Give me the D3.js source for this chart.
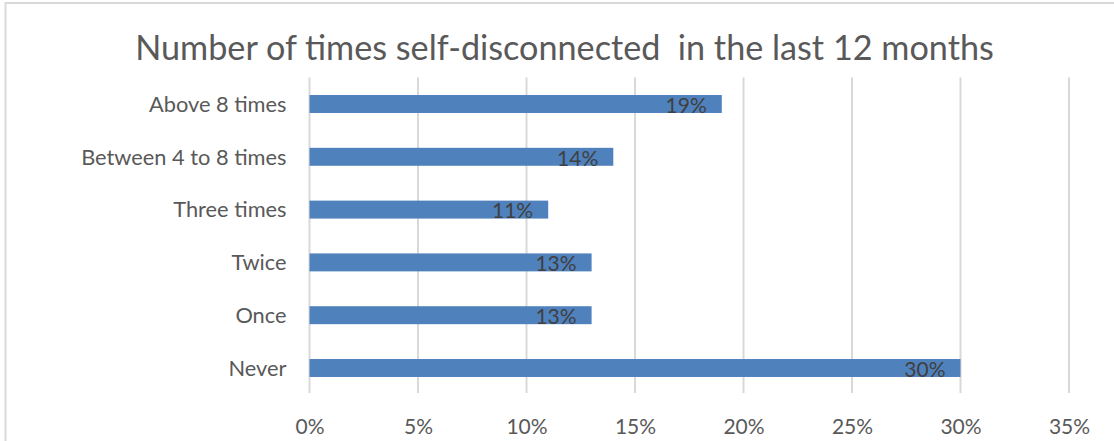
<!DOCTYPE html>
<html>
<head>
<meta charset="utf-8">
<script src="https://cdn.jsdelivr.net/npm/d3@7"></script>
<style>
  html, body { margin: 0; padding: 0; background: #fff; }
  svg { display: block; font-family: Lato, "Open Sans", sans-serif; }
</style>
</head>
<body>
<svg id="chart" width="1114" height="441"></svg>
<script>
// Survey responses: how often the household self-disconnected
const categories = ["Above 8 times", "Between 4 to 8 times", "Three times", "Twice", "Once", "Never"];
const shares = [19, 14, 11, 13, 13, 30];
const tickValues = [0, 5, 10, 15, 20, 25, 30, 35];
const title = "Number of times self-disconnected  in the last 12 months";

const svg = d3.select("#chart");
const W = 1114, H = 441;

// chart frame (light grey outline)
svg.append("rect")
  .attr("x", 5.5).attr("y", 3)
  .attr("width", W + 10).attr("height", H + 10)
  .attr("fill", "#fff").attr("stroke", "#d9d9d9").attr("stroke-width", 2);

const plot = { left: 309.5, right: 1069, top: 77.6, bottom: 394.4 };

const x = d3.scaleLinear().domain([0, 35]).range([plot.left, plot.right]);
const y = d3.scaleBand().domain(categories).range([plot.top, plot.bottom]).paddingInner(0.66).paddingOuter(0.33);

// vertical gridlines
svg.append("g").selectAll("line").data(tickValues).join("line")
  .attr("x1", d => x(d)).attr("x2", d => x(d))
  .attr("y1", plot.top).attr("y2", plot.bottom - 1.5)
  .attr("stroke", "#d9d9d9").attr("stroke-width", 2);

// x axis labels
const xAxis = d3.axisBottom(x).tickValues(tickValues).tickFormat(d => d + "%").tickSize(0).tickPadding(0);
const gx = svg.append("g").attr("transform", `translate(0,${plot.bottom + 25})`).call(xAxis);
gx.select(".domain").remove();
gx.selectAll("text").attr("font-size", 21).attr("fill", "#595959").attr("font-family", "Lato, sans-serif").attr("dy", "0.71em");

// y axis labels
const yAxis = d3.axisLeft(y).tickSize(0).tickPadding(23);
const gy = svg.append("g").attr("transform", `translate(${plot.left},0)`).call(yAxis);
gy.select(".domain").remove();
gy.selectAll("text").attr("font-size", 21.8).attr("fill", "#595959").attr("font-family", "Lato, sans-serif").attr("dy", "0.36em");

// bars
svg.append("g").selectAll("rect").data(categories).join("rect")
  .attr("x", x(0))
  .attr("y", d => y(d))
  .attr("width", (d, i) => x(shares[i]) - x(0))
  .attr("height", y.bandwidth())
  .attr("fill", "#4f81bd");

// value labels, inside end of each bar
svg.append("g").selectAll("text").data(categories).join("text")
  .attr("x", (d, i) => x(shares[i]) - 15)
  .attr("y", d => y(d) + y.bandwidth() / 2)
  .attr("dy", "0.42em")
  .attr("text-anchor", "end")
  .attr("font-size", 21)
  .attr("fill", "#404040")
  .text((d, i) => shares[i] + "%");

// title
svg.append("text")
  .attr("x", 564.5).attr("y", 60)
  .attr("text-anchor", "middle")
  .attr("font-size", 34.2)
  .attr("fill", "#595959")
  .attr("xml:space", "preserve")
  .style("white-space", "pre")
  .text(title);
</script>
</body>
</html>
